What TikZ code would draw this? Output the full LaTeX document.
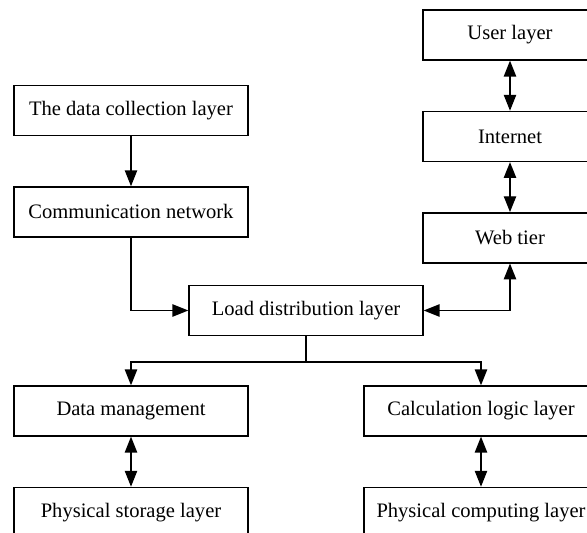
\documentclass[tikz,border=0pt]{standalone}
\usepackage{fontspec}
\setmainfont{Liberation Serif}
\usetikzlibrary{arrows.meta}
\usetikzlibrary{positioning}

\begin{document}
\begin{tikzpicture}[->,>={Triangle[length=9pt,width=7pt]},thick,node distance=1cm,
    layer node/.style={draw,->,minimum width=4.68cm,minimum height=1cm,inner sep=0pt,
      font=\fontsize{11.7}{14}\selectfont},
    net node/.style={layer node,minimum width=3.48cm}
    ]
    \clip (0,0) rectangle (11.74,-10.66);

    \node[layer node](collect) at (2.62,-2.21){The data collection layer};
    \node[layer node](comm)[below=of collect]{Communication network};
    \node[layer node](load) at (6.12,-6.21){Load distribution layer};

    \node[net node](user) at (10.2,-0.70){User layer};
    \node[net node](internet)[below=of user]{Internet};
    \node[net node](web)[below=of internet]{Web tier};

    \node[layer node](datam) at (2.62,-8.22){Data management};
    \node[layer node](storage)[below=of datam]{Physical storage layer};
    \node[layer node](calc) at (9.62,-8.22){Calculation logic layer};
    \node[layer node](compute)[below=of calc]{Physical computing layer};

    \coordinate[below=0.52cm of load](split);

    \draw (collect) -- (comm);
    \draw (comm) |- (load);
    \draw[<->] (user) -- (internet);
    \draw[<->] (internet) -- (web);
    \draw[<->] (load) -| (web);
    \draw (load) -- (split) -| (datam);
    \draw (split) -| (calc);
    \draw[<->] (datam) -- (storage);
    \draw[<->] (calc) -- (compute);
  \end{tikzpicture}
\end{document}
